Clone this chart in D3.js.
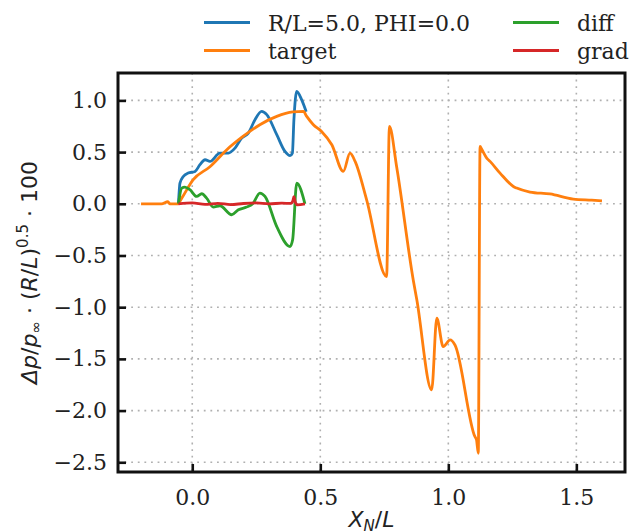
<!DOCTYPE html>
<html>
<head>
<meta charset="utf-8">
<script src="https://cdn.jsdelivr.net/npm/d3@7"></script>
<style>
  body { margin: 0; background: #fff; }
  svg { display: block; }
</style>
</head>
<body>
<svg id="chart" width="638" height="532"></svg>
<script>
// target curve
const targetX = [-0.2, -0.12, -0.095, -0.088, -0.056, -0.041, 0.003, 0.069, 0.135, 0.198, 0.264, 0.33, 0.393, 0.434, 0.447,
  0.473, 0.505, 0.545, 0.59, 0.616, 0.636, 0.681, 0.759, 0.77, 0.798, 0.863, 0.877, 0.935, 0.955, 0.98, 1.007, 1.026,
  1.104, 1.11, 1.117, 1.124, 1.13, 1.15, 1.163, 1.202, 1.254, 1.267, 1.319, 1.397, 1.488, 1.56, 1.6];
const targetY = [0, 0, 0.02, 0, 0, 0.055, 0.232, 0.358, 0.523, 0.651, 0.765, 0.845, 0.888, 0.894, 0.845,
  0.765, 0.70, 0.571, 0.313, 0.49, 0.41, 0.039, -0.704, 0.748, 0.361, -0.736, -0.929, -1.80, -1.107, -1.381, -1.317, -1.365,
  -2.253, -2.28, -2.413, 0.555, 0.53, 0.442, 0.41, 0.297, 0.168, 0.152, 0.114, 0.095, 0.045, 0.035, 0.029];

// R/L=5.0, PHI=0.0
const modelX = [-0.054, -0.048, -0.035, -0.016, 0.011, 0.03, 0.05, 0.069, 0.108, 0.141, 0.167, 0.193, 0.219, 0.245, 0.271,
  0.291, 0.33, 0.362, 0.382, 0.391, 0.397, 0.408, 0.427, 0.445];
const modelY = [0, 0.2, 0.264, 0.297, 0.313, 0.378, 0.426, 0.41, 0.49, 0.49, 0.539, 0.636, 0.684, 0.813, 0.894,
  0.862, 0.668, 0.506, 0.465, 0.49, 0.813, 1.087, 1.007, 0.89];

// diff
const diffX = [-0.054, -0.041, -0.029, -0.009, 0.017, 0.037, 0.056, 0.082, 0.108, 0.154, 0.18, 0.212, 0.238, 0.264, 0.284,
  0.33, 0.382, 0.392, 0.408, 0.44];
const diffY = [0, 0.152, 0.162, 0.136, 0.071, 0.097, 0.055, -0.032, -0.019, -0.106, -0.058, -0.032, 0.006, 0.103, 0.071,
  -0.22, -0.413, -0.348, 0.2, 0];

// grad
const gradX = [-0.054, 0.0, 0.05, 0.1, 0.15, 0.2, 0.25, 0.3, 0.35, 0.385, 0.393, 0.397, 0.402, 0.41, 0.44];
const gradY = [0, 0.008, -0.005, 0.005, -0.008, 0.003, 0.008, 0.0, 0.006, 0.004, 0.03, 0.07, 0.02, -0.01, 0];

const xTicks = [0.0, 0.5, 1.0, 1.5];
const yTicks = [1.0, 0.5, 0.0, -0.5, -1.0, -1.5, -2.0, -2.5];

const seriesNames = ["R/L=5.0, PHI=0.0", "target", "diff", "grad"];
const colors = ["#1f77b4", "#ff7f0e", "#2ca02c", "#d62728"];

const svg = d3.select("#chart");
const plotL = 118, plotR = 625, plotT = 73, plotB = 472;

const x = d3.scaleLinear().domain([-0.29, 1.69]).range([plotL, plotR]);
const y = d3.scaleLinear().domain([-2.594, 1.265]).range([plotB, plotT]);
const fmt = d3.format(".1f");
const serif = "DejaVu Serif";

// grid
const grid = svg.append("g").attr("stroke", "#b0b0b0").attr("stroke-width", 1.6)
  .attr("stroke-dasharray", "1.8,4.8");
grid.selectAll(".gx").data(xTicks).enter().append("line")
  .attr("x1", d => x(d)).attr("x2", d => x(d)).attr("y1", plotT).attr("y2", plotB);
grid.selectAll(".gy").data(yTicks).enter().append("line")
  .attr("y1", d => y(d)).attr("y2", d => y(d)).attr("x1", plotL).attr("x2", plotR);

// lines
const line = d3.line().x(d => x(d[0])).y(d => y(d[1])).curve(d3.curveMonotoneX);
const series = [
  d3.zip(modelX, modelY),
  d3.zip(targetX, targetY),
  d3.zip(diffX, diffY),
  d3.zip(gradX, gradY)
];
svg.append("g").selectAll("path").data(series).enter().append("path")
  .attr("d", line)
  .attr("fill", "none")
  .attr("stroke", (d, i) => colors[i])
  .attr("stroke-width", 2.8)
  .attr("stroke-linejoin", "round")
  .attr("stroke-linecap", "butt");

// axes (ticks inward)
const xAxis = svg.append("g").attr("transform", `translate(0,${plotB})`)
  .call(d3.axisBottom(x).tickValues(xTicks).tickFormat(fmt).tickSizeInner(-8).tickSizeOuter(0).tickPadding(17));
const yAxis = svg.append("g").attr("transform", `translate(${plotL},0)`)
  .call(d3.axisLeft(y).tickValues(yTicks).tickFormat(fmt).tickSizeInner(-8).tickSizeOuter(0).tickPadding(11));
[xAxis, yAxis].forEach(a => {
  a.select(".domain").remove();
  a.selectAll(".tick line").attr("stroke", "#111").attr("stroke-width", 2.6);
  a.selectAll(".tick text").attr("font-family", serif).attr("font-size", 22).attr("fill", "#222");
});

// frame
svg.append("rect").attr("x", plotL).attr("y", plotT)
  .attr("width", plotR - plotL).attr("height", plotB - plotT)
  .attr("fill", "none").attr("stroke", "#111").attr("stroke-width", 3);

// legend
const legendPos = [[204, 22.5], [204, 50.5], [513, 22.5], [513, 50.5]];
const lg = svg.append("g");
seriesNames.forEach((name, i) => {
  const [lx, ly] = legendPos[i];
  lg.append("line").attr("x1", lx).attr("x2", lx + 46).attr("y1", ly).attr("y2", ly)
    .attr("stroke", colors[i]).attr("stroke-width", 2.8);
  lg.append("text").attr("x", lx + 64).attr("y", ly + 8.5)
    .attr("font-family", serif).attr("font-size", 22).attr("fill", "#222").text(name);
});

// axis labels
const xl = svg.append("text").attr("x", (plotL + plotR) / 2).attr("y", 527)
  .attr("text-anchor", "middle").attr("font-family", "DejaVu Sans").attr("font-size", 22).attr("fill", "#222");
xl.append("tspan").attr("font-style", "italic").text("X");
xl.append("tspan").attr("font-style", "italic").attr("font-size", 15).attr("dy", 4).text("N");
xl.append("tspan").attr("dy", -4).text("/");
xl.append("tspan").attr("font-style", "italic").text("L");

const yl = svg.append("text")
  .attr("transform", `translate(37,${(plotT + plotB) / 2}) rotate(-90)`)
  .attr("text-anchor", "middle").attr("font-family", "DejaVu Sans").attr("font-size", 22).attr("fill", "#222");
yl.append("tspan").attr("font-style", "italic").text("Δp");
yl.append("tspan").text("/");
yl.append("tspan").attr("font-style", "italic").text("p");
yl.append("tspan").attr("font-size", 15).attr("dy", 4).text("∞");
yl.append("tspan").attr("dy", -4).text(" · (");
yl.append("tspan").attr("font-style", "italic").text("R");
yl.append("tspan").text("/");
yl.append("tspan").attr("font-style", "italic").text("L");
yl.append("tspan").text(")");
yl.append("tspan").attr("font-size", 15).attr("dy", -9).text("0.5");
yl.append("tspan").attr("dy", 9).text(" · 100");
</script>
</body>
</html>
